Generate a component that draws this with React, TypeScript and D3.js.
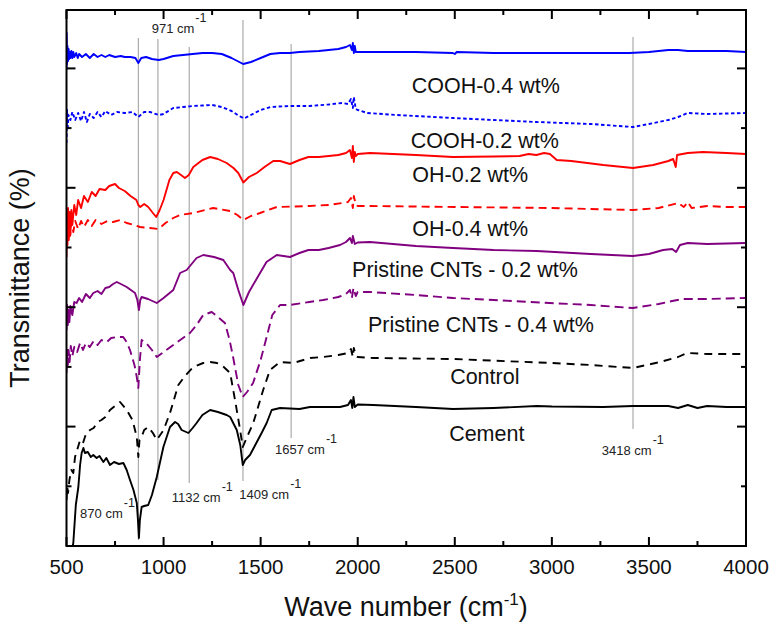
import React from "react";
import * as d3 from "d3";

type Pt = [number, number];

// Wavenumber axis
const X_MAJOR = [500, 1000, 1500, 2000, 2500, 3000, 3500, 4000];
const X_MINOR = [750, 1250, 1750, 2250, 2750, 3250, 3750];
// Transmittance (a.u., offset spectra) axis ticks, no labels
const Y_MAJOR = [0, 119.4, 238.8, 358.2, 477.6];
const Y_MINOR = [59.7, 179.1, 298.5, 417.9];

const cooh04: Pt[] = [
  [500, 476], [501, 513], [503, 482], [505, 500], [508, 485], [511, 497], [514, 487], [517, 494], [520, 488],
  [525, 495], [530, 488], [535, 494], [540, 489], [550, 493], [558, 488], [565, 492], [580, 489], [600, 492],
  [620, 488], [640, 492], [660, 489], [680, 491], [700, 489], [720, 491],
  [750, 489], [780, 490], [800, 489], [830, 489], [855, 488], [870, 483], [885, 488], [910, 489], [940, 487],
  [975, 486], [1000, 487], [1050, 490], [1100, 491], [1150, 492], [1200, 493], [1250, 493], [1300, 492],
  [1350, 488], [1390, 484], [1410, 482], [1450, 484], [1500, 488], [1550, 492], [1600, 493], [1650, 493],
  [1700, 494], [1800, 495], [1850, 496], [1900, 497], [1940, 499], [1960, 501], [1970, 496], [1975, 503],
  [1980, 493], [1985, 500], [1990, 494], [2000, 494], [2100, 494], [2300, 494], [2490, 493], [2500, 492],
  [2510, 494], [2700, 493], [2900, 493], [3200, 493], [3400, 493], [3500, 494], [3600, 496], [3650, 496],
  [3700, 495], [3800, 495], [3900, 495], [4000, 494],
];

const cooh02: Pt[] = [
  [500, 403], [503, 436], [506, 416], [510, 431], [520, 426], [530, 434], [545, 426], [560, 433], [575, 425],
  [590, 434], [605, 424], [620, 432], [640, 428], [660, 434], [680, 429], [700, 435], [730, 431], [760, 434],
  [800, 433], [840, 434], [870, 429], [900, 434], [930, 434], [975, 431], [1000, 432], [1050, 438], [1100, 439],
  [1150, 440], [1200, 440.5], [1250, 441], [1300, 439], [1350, 435], [1390, 430], [1415, 427.5], [1450, 431],
  [1500, 436], [1550, 439], [1650, 440], [1750, 440], [1850, 441.5], [1920, 443], [1950, 442], [1965, 447],
  [1975, 438], [1980, 449], [1990, 437], [2000, 436], [2050, 433], [2200, 431], [2490, 428], [2700, 426],
  [2920, 424], [3200, 422], [3418, 419], [3500, 422], [3600, 426], [3650, 429], [3700, 433], [3800, 432],
  [3900, 432.5], [4000, 433],
];

const oh02: Pt[] = [
  [500, 289], [502, 331], [505, 301], [508, 338], [512, 306], [516, 334], [520, 311], [525, 336], [530, 321],
  [540, 341], [550, 331], [560, 346], [575, 338], [590, 350], [610, 344], [630, 354], [650, 350], [670, 357],
  [700, 356], [720, 360], [750, 362], [770, 358], [800, 355], [830, 350], [860, 346], [870, 341], [880, 339],
  [900, 342], [921, 339], [945, 333], [962, 329], [980, 336], [1000, 346], [1030, 366], [1050, 373], [1068, 374],
  [1090, 371], [1110, 368], [1130, 371], [1153, 379], [1200, 386], [1240, 389], [1280, 387], [1325, 383],
  [1360, 378], [1385, 373], [1411, 363.5], [1440, 369], [1480, 373], [1520, 379], [1565, 385], [1600, 385],
  [1651, 382], [1700, 386], [1746, 389], [1800, 389], [1850, 390], [1900, 391], [1940, 393], [1960, 396],
  [1970, 388], [1975, 400], [1980, 384], [1985, 394], [1990, 390], [2000, 392], [2063, 393], [2300, 391],
  [2491, 389], [2700, 389.5], [2834, 390], [2880, 392], [2920, 391], [2960, 393], [2990, 392], [3025, 386],
  [3100, 385], [3265, 381], [3418, 378], [3522, 381], [3600, 385], [3625, 387], [3638, 379], [3645, 391],
  [3700, 393], [3778, 394], [3900, 393], [4000, 392],
];

const oh04: Pt[] = [
  [500, 306], [504, 323], [508, 308], [512, 321], [518, 310], [525, 324], [535, 314], [545, 325], [560, 317],
  [575, 325], [590, 319], [610, 326], [630, 320], [650, 326], [680, 322], [710, 325], [740, 324], [776, 326],
  [810, 323], [850, 321], [879, 319], [930, 318], [973, 317], [1010, 323], [1050, 328], [1085, 331],
  [1153, 333], [1256, 338], [1343, 335], [1380, 331], [1411, 326], [1450, 330], [1497, 333], [1583, 339],
  [1750, 340], [1850, 341], [1920, 343], [1950, 344], [1965, 348], [1975, 338], [1980, 350], [1990, 341],
  [2000, 340], [2063, 340], [2500, 339], [2997, 338], [3200, 337], [3418, 336], [3550, 338], [3650, 343],
  [3680, 339], [3700, 344], [3720, 338], [3800, 340], [3900, 339], [4000, 339],
];

const pristine02: Pt[] = [
  [500, 216], [503, 241], [507, 221], [510, 236], [515, 224], [520, 240], [530, 231], [540, 244], [552, 243],
  [565, 248], [580, 244], [600, 252], [620, 248], [638, 253], [660, 255], [680, 252], [700, 258], [720, 259],
  [740, 262], [759, 264], [780, 262], [810, 259], [853, 253], [865, 246], [873, 236], [880, 246], [887, 249],
  [920, 247], [965, 243], [1000, 248], [1050, 256], [1085, 273], [1119, 276], [1170, 288], [1205, 291],
  [1260, 289], [1308, 286], [1343, 276], [1359, 273], [1385, 256], [1411, 241], [1440, 254], [1497, 273],
  [1530, 284], [1583, 291], [1651, 289], [1700, 293], [1746, 296], [1800, 296], [1850, 298], [1909, 301],
  [1940, 304], [1960, 308], [1970, 303], [1975, 310], [1985, 302], [2000, 303.5], [2063, 304], [2300, 300],
  [2491, 298], [2700, 296], [2922, 295], [3200, 292], [3418, 290], [3500, 292], [3573, 296], [3620, 297],
  [3640, 294], [3660, 301], [3700, 303], [3800, 302], [3900, 302.5], [4000, 303],
];

const pristine04: Pt[] = [
  [500, 173], [503, 199], [507, 181], [511, 196], [516, 184], [522, 200], [530, 190], [540, 199], [555, 194],
  [570, 203], [585, 196], [600, 203], [620, 199], [640, 205], [660, 201], [680, 206], [708, 204], [730, 208],
  [760, 209], [792, 209], [810, 204], [827, 196], [850, 181], [862, 169], [870, 158], [878, 186], [887, 206],
  [910, 203], [940, 196], [965, 189], [1000, 194], [1050, 201], [1100, 208], [1136, 213], [1170, 221],
  [1204, 231], [1248, 234], [1280, 229], [1316, 223], [1340, 206], [1358, 189], [1385, 161], [1408, 149],
  [1430, 154], [1461, 163], [1500, 186], [1531, 209], [1560, 231], [1600, 241], [1651, 241], [1750, 244],
  [1822, 246], [1900, 249], [1940, 252], [1960, 256], [1970, 248], [1978, 258], [1990, 250], [2000, 254],
  [2063, 254], [2300, 251], [2491, 248], [2700, 246], [2990, 243], [3200, 241], [3418, 238], [3550, 242],
  [3620, 245], [3675, 247], [3800, 247], [3900, 247.5], [4000, 248],
];

const control: Pt[] = [
  [500, 46], [504, 59], [508, 53], [515, 66], [525, 76], [535, 73], [544, 89], [555, 96], [570, 106], [585, 103],
  [600, 112], [621, 116], [640, 118], [660, 124], [680, 126], [700, 129], [724, 136], [750, 140], [776, 144],
  [810, 136], [840, 126], [862, 109], [870, 89], [876, 106], [887, 109], [900, 116], [921, 119], [945, 113],
  [965, 106], [1000, 116], [1033, 133], [1076, 161], [1110, 170], [1153, 179], [1204, 183], [1240, 184],
  [1275, 183], [1310, 179], [1343, 173], [1368, 146], [1390, 121], [1408, 99], [1430, 109], [1462, 123],
  [1513, 156], [1548, 176], [1600, 184], [1668, 183], [1756, 188], [1822, 189], [1900, 191], [1950, 193],
  [1965, 197], [1975, 189], [1980, 198], [1990, 190], [2000, 189], [2080, 188], [2491, 187], [2997, 183],
  [3200, 181], [3418, 178], [3557, 184], [3650, 189], [3695, 193], [3800, 192], [3900, 192], [4000, 192],
];

const cement: Pt[] = [
  [528, -4], [535, 3], [548, 41], [561, 59], [570, 81], [578, 93], [587, 98], [595, 93], [610, 94], [625, 89],
  [638, 91], [655, 88], [670, 90], [690, 84], [705, 88], [724, 81], [745, 84], [770, 82], [793, 83], [810, 76],
  [827, 66], [845, 56], [862, 43], [868, 26], [873, 8], [878, 26], [887, 39], [900, 40], [921, 41], [940, 51],
  [965, 69], [999, 99], [1033, 119], [1059, 124], [1075, 122], [1093, 116], [1128, 113], [1150, 118],
  [1170, 123], [1200, 131], [1240, 136], [1280, 134], [1325, 131], [1343, 129], [1377, 116], [1395, 101],
  [1408, 81], [1420, 86], [1445, 91], [1505, 113], [1531, 123], [1557, 136], [1600, 138], [1700, 137],
  [1754, 139], [1850, 139], [1909, 139], [1950, 141], [1965, 146], [1972, 138], [1978, 149], [1985, 139],
  [2000, 141.5], [2080, 141], [2300, 139], [2491, 137], [2700, 138], [2922, 140], [3000, 139.5], [3265, 139],
  [3418, 140], [3600, 140], [3650, 138], [3700, 141], [3750, 138], [3800, 140], [3900, 139], [4000, 139],
];

// Peak marker lines: wavenumber, top value, bottom value
const PEAK_WN = [870, 971, 1132, 1409, 1657, 3418];
const PEAK_TOP = [508, 507, 499, 526, 502, 509];
const PEAK_BOTTOM = [6, 66, 63, 65, 108, 117];

// Peak annotation labels: text and anchor (wavenumber, value)
const PEAK_TEXT = ["870 cm", "971 cm", "1132 cm", "1409 cm", "1657 cm", "3418 cm"];
const PEAK_LABEL_WN = [570, 939, 1042, 1390, 1574, 3257];
const PEAK_LABEL_V = [28, 513, 44, 47, 92, 91];

// Series labels
const SERIES_NAMES = [
  "COOH-0.4 wt%", "COOH-0.2 wt%", "OH-0.2 wt%", "OH-0.4 wt%",
  "Pristine CNTs - 0.2 wt%", "Pristine CNTs - 0.4 wt%", "Control", "Cement",
];
const SERIES_LABEL_WN = [2278, 2273, 2281, 2281, 1971, 2053, 2476, 2471];
const SERIES_LABEL_V = [453, 398, 364, 310, 269, 214, 162, 105];

const SERIES = [
  { data: cooh04, color: "#0000FF", dash: null },
  { data: cooh02, color: "#0000FF", dash: "3.5,2.5" },
  { data: oh02, color: "#FF0000", dash: null },
  { data: oh04, color: "#FF0000", dash: "8,5" },
  { data: pristine02, color: "#800080", dash: null },
  { data: pristine04, color: "#800080", dash: "9,5" },
  { data: control, color: "#000000", dash: "8,6" },
  { data: cement, color: "#000000", dash: null },
];

const W = 772;
const H = 625;
const M = { left: 66.5, right: 746, top: 10, bottom: 546 };
const FONT = "Liberation Sans, Arial, sans-serif";

export default function App() {
  const x = d3.scaleLinear().domain([500, 4000]).range([M.left, M.right]);
  const y = d3.scaleLinear().domain([0, 536]).range([M.bottom, M.top]);
  const line = d3
    .line<Pt>()
    .x((d) => x(d[0]))
    .y((d) => y(d[1]));

  return (
    <svg
      width={W}
      height={H}
      style={{ position: "absolute", left: 0, top: 0, background: "#fff" }}
      fontFamily={FONT}
    >
      <defs>
        <clipPath id="plot">
          <rect x={M.left} y={M.top} width={M.right - M.left} height={M.bottom - M.top} />
        </clipPath>
      </defs>
      <rect x={0} y={0} width={W} height={H} fill="#fff" />

      {/* peak marker lines */}
      {PEAK_WN.map((wn, i) => (
        <line
          key={"pk" + i}
          x1={x(wn)}
          x2={x(wn)}
          y1={y(PEAK_TOP[i])}
          y2={y(PEAK_BOTTOM[i])}
          stroke="#9a9a9a"
          strokeWidth={1}
        />
      ))}

      {/* spectra */}
      <g clipPath="url(#plot)">
        {SERIES.map((s, i) => (
          <path
            key={"s" + i}
            d={line(s.data) || ""}
            fill="none"
            stroke={s.color}
            strokeWidth={1.9}
            strokeDasharray={s.dash || undefined}
            strokeLinejoin="round"
          />
        ))}
      </g>

      {/* peak labels */}
      {PEAK_TEXT.map((t, i) => (
        <text key={"pl" + i} x={x(PEAK_LABEL_WN[i])} y={y(PEAK_LABEL_V[i])} fontSize={13} fill="#222">
          {t}
          <tspan dx={1} dy={-11} fontSize={12.5}>-1</tspan>
        </text>
      ))}

      {/* series labels */}
      {SERIES_NAMES.map((t, i) => (
        <text key={"sl" + i} x={x(SERIES_LABEL_WN[i])} y={y(SERIES_LABEL_V[i])} fontSize={21.5} fill="#111">
          {t}
        </text>
      ))}

      {/* frame */}
      <rect
        x={M.left}
        y={M.top}
        width={M.right - M.left}
        height={M.bottom - M.top}
        fill="none"
        stroke="#000"
        strokeWidth={2}
      />

      {/* x ticks */}
      {X_MAJOR.map((v) => (
        <g key={"xm" + v}>
          <line x1={x(v)} x2={x(v)} y1={M.bottom} y2={M.bottom - 9} stroke="#000" strokeWidth={2} />
          <line x1={x(v)} x2={x(v)} y1={M.top} y2={M.top + 9} stroke="#000" strokeWidth={2} />
          <text x={x(v)} y={574} textAnchor="middle" fontSize={20.5} fill="#111">
            {v}
          </text>
        </g>
      ))}
      {X_MINOR.map((v) => (
        <g key={"xn" + v}>
          <line x1={x(v)} x2={x(v)} y1={M.bottom} y2={M.bottom - 5} stroke="#000" strokeWidth={2} />
          <line x1={x(v)} x2={x(v)} y1={M.top} y2={M.top + 5} stroke="#000" strokeWidth={2} />
        </g>
      ))}

      {/* y ticks */}
      {Y_MAJOR.map((v) => (
        <g key={"ym" + v}>
          <line x1={M.left} x2={M.left + 9} y1={y(v)} y2={y(v)} stroke="#000" strokeWidth={2} />
          <line x1={M.right} x2={M.right - 9} y1={y(v)} y2={y(v)} stroke="#000" strokeWidth={2} />
        </g>
      ))}
      {Y_MINOR.map((v) => (
        <g key={"yn" + v}>
          <line x1={M.left} x2={M.left + 5} y1={y(v)} y2={y(v)} stroke="#000" strokeWidth={2} />
          <line x1={M.right} x2={M.right - 5} y1={y(v)} y2={y(v)} stroke="#000" strokeWidth={2} />
        </g>
      ))}

      {/* axis titles */}
      <text x={406} y={616} textAnchor="middle" fontSize={27} fill="#111">
        Wave number (cm
        <tspan dy={-11} fontSize={17}>-1</tspan>
        <tspan dy={11}>)</tspan>
      </text>
      <text
        transform={`translate(29, ${(M.top + M.bottom) / 2}) rotate(-90)`}
        textAnchor="middle"
        fontSize={27}
        fill="#111"
      >
        Transmittance (%)
      </text>
    </svg>
  );
}
